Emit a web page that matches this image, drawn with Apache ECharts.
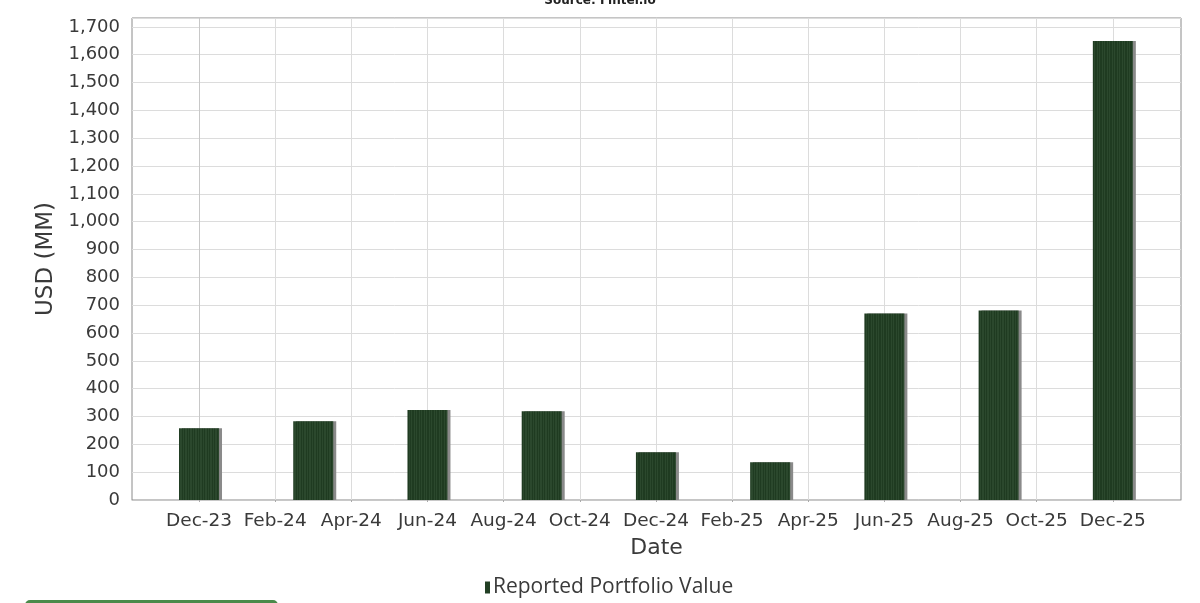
<!DOCTYPE html>
<html>
<head>
<meta charset="utf-8">
<script src="https://cdn.jsdelivr.net/npm/echarts@6/dist/echarts.min.js"></script>
<style>html,body{margin:0;padding:0;background:#fff}#c{width:1200px;height:603px}</style>
</head>
<body>
<div id="c"></div>
<script>
// Month sequence of the x axis (index = position on axis)
const months = ['Dec-23','Jan-24','Feb-24','Mar-24','Apr-24','May-24','Jun-24','Jul-24','Aug-24','Sep-24','Oct-24','Nov-24','Dec-24',
  'Jan-25','Feb-25','Mar-25','Apr-25','May-25','Jun-25','Jul-25','Aug-25','Sep-25','Oct-25','Nov-25','Dec-25'];
// Tick labels shown on the x axis
const tickLabels = ['Dec-23','Feb-24','Apr-24','Jun-24','Aug-24','Oct-24','Dec-24','Feb-25','Apr-25','Jun-25','Aug-25','Oct-25','Dec-25'];
// Reporting dates and portfolio values (USD MM)
const reportDates = ['Dec-23','Mar-24','Jun-24','Sep-24','Dec-24','Mar-25','Jun-25','Sep-25','Dec-25'];
const portfolioValues = [258, 283, 323, 319, 172, 136, 670, 681, 1649];
const seriesName = 'Reported Portfolio Value';

const tickPositions = tickLabels.map(l => months.indexOf(l));
const barData = reportDates.map((d, i) => [months.indexOf(d), portfolioValues[i]]);

const textColor = '#3a3a3a';
const font = 'DejaVu Sans';

// vertical pinstripe fill for bars (style only)
const stripeStops = [];
const nStripes = 16;
for (let i = 0; i < nStripes; i++) {
  const a = i / nStripes, b = (i + 0.5) / nStripes, c = (i + 1) / nStripes;
  stripeStops.push({offset: a, color: '#1f3b21'}, {offset: b, color: '#1f3b21'},
                   {offset: b, color: '#2b482d'}, {offset: c, color: '#2b482d'});
}
const barFill = new echarts.graphic.LinearGradient(0, 0, 1, 0, stripeStops);

const chart = echarts.init(document.getElementById('c'), null, {renderer: 'canvas'});
chart.setOption({
  animation: false,
  backgroundColor: '#fff',
  title: {
    text: 'Source: Fintel.io',
    left: 'center',
    top: -10,
    textStyle: {fontFamily: font, fontWeight: 'bold', fontSize: 12, color: '#222'}
  },
  grid: {
    left: 132, right: 19, top: 18, bottom: 103,
    show: true, borderColor: '#8a8a8a', borderWidth: 1, backgroundColor: '#fff'
  },
  legend: {
    data: [seriesName],
    left: 480, top: 572,
    icon: 'rect', itemWidth: 5, itemHeight: 12, itemGap: 4,
    itemStyle: {color: '#223f24'},
    textStyle: {fontFamily: 'Open Sans', fontSize: 21, color: textColor, padding: [0,0,0,-2]}
  },
  xAxis: {
    type: 'value',
    min: -1.76, max: 25.79,
    offset: 4,
    name: 'Date', nameLocation: 'middle', nameGap: 33,
    nameTextStyle: {fontFamily: font, fontSize: 22, color: textColor},
    axisLine: {show: true, lineStyle: {color: '#c8c8c8', width: 1}},
    axisTick: {show: true, length: 2, customValues: tickPositions, lineStyle: {color: '#aaa'}},
    axisLabel: {
      customValues: tickPositions, margin: 8,
      fontFamily: font, fontSize: 18.5, color: textColor,
      formatter: v => months[Math.round(v)] || ''
    },
    splitLine: {show: true, lineStyle: {color: '#dcdcdc', width: 1}}
  },
  yAxis: {
    type: 'value',
    min: 0, max: 1732, interval: 100,
    offset: 4,
    name: 'USD (MM)', nameLocation: 'middle', nameGap: 70, nameRotate: 90,
    nameTextStyle: {fontFamily: font, fontSize: 23, color: textColor},
    axisLine: {show: true, lineStyle: {color: '#c8c8c8', width: 1}},
    axisTick: {show: false},
    axisLabel: {
      margin: 8, fontFamily: font, fontSize: 18, color: textColor,
      formatter: v => (v % 100 === 0 ? v.toLocaleString('en-US') : '')
    },
    splitLine: {show: true, lineStyle: {color: '#dcdcdc', width: 1}}
  },
  series: [{
    name: seriesName,
    type: 'bar',
    data: barData,
    barWidth: 40,
    itemStyle: {
      color: barFill,
      shadowColor: '#8a8a8a', shadowOffsetX: 3, shadowOffsetY: 0, shadowBlur: 0
    }
  }],
  graphic: [{
    type: 'rect',
    left: 25, top: 600,
    shape: {width: 253, height: 12, r: 5},
    style: {fill: '#4a8a4a'}
  }]
});
</script>
</body>
</html>
